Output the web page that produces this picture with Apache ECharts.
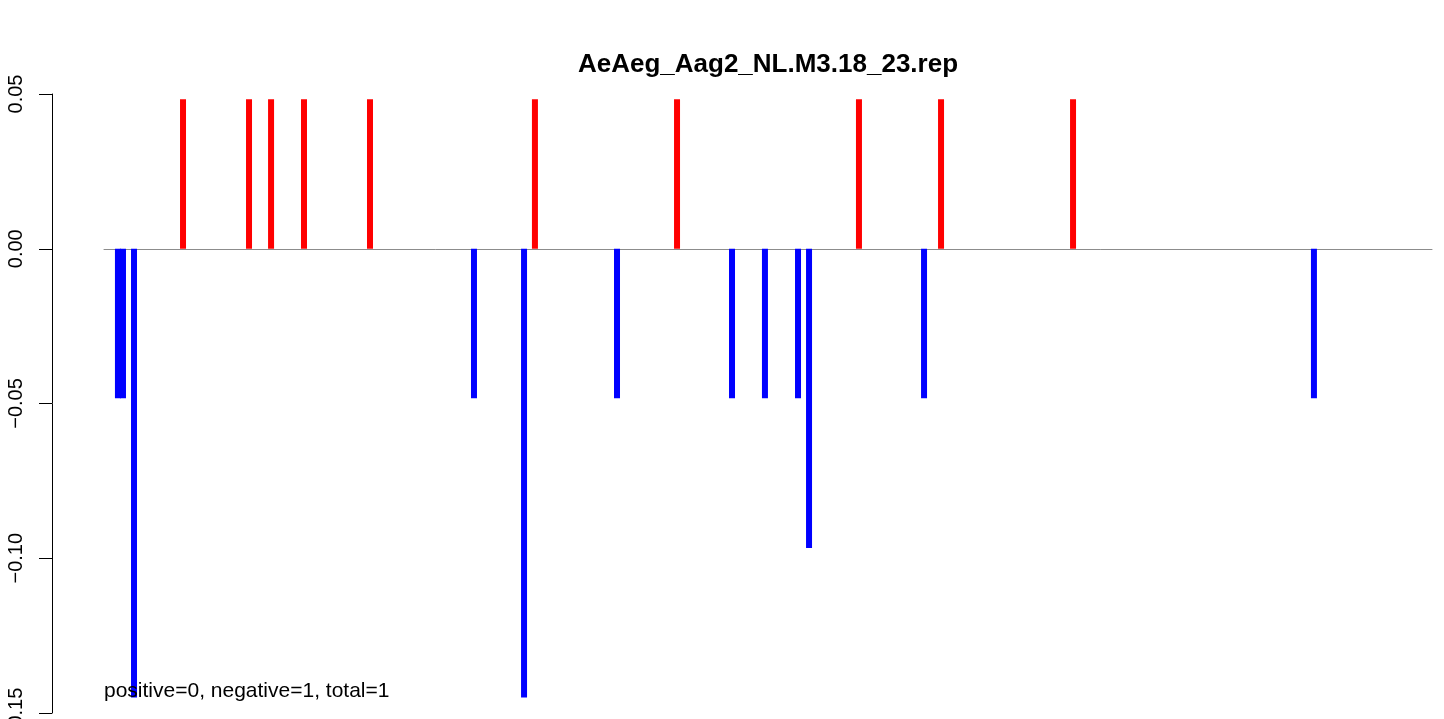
<!DOCTYPE html>
<html>
<head>
<meta charset="utf-8">
<script src="https://cdn.jsdelivr.net/npm/echarts@6/dist/echarts.min.js"></script>
<style>
  html, body { margin: 0; padding: 0; background: #ffffff; }
  #chart { width: 1444px; height: 719px; }
</style>
</head>
<body>
<div id="chart"></div>
<script>
// Positions along the sequence (arbitrary units, 0..1000 span of the baseline)
const positions = [10.5, 14.3, 22.6, 59.5, 109.2, 125.8, 150.6, 200.3, 278.6, 316.3, 324.5,
                   386.3, 431.5, 472.9, 497.7, 522.6, 530.9, 568.5, 617.5, 630.3, 729.7, 911.1];
// Bar heights (positive = red, negative = blue)
const values = [-0.0483, -0.0483, -0.145, 0.0483, 0.0483, 0.0483, 0.0483, 0.0483, -0.0483, -0.145, 0.0483,
                -0.0483, 0.0483, -0.0483, -0.0483, -0.0483, -0.0967, 0.0483, -0.0483, 0.0483, 0.0483, -0.0483];
const yTicks = [-0.15, -0.10, -0.05, 0.00, 0.05];
const titleText = 'AeAeg_Aag2_NL.M3.18_23.rep';
const noteText = 'positive=0, negative=1, total=1';

const FONT = '"Liberation Sans", Arial, Helvetica, sans-serif';

const chart = echarts.init(document.getElementById('chart'), null, { renderer: 'canvas' });

const data = positions.map((x, i) => [x, values[i]]);

chart.setOption({
  animation: false,
  backgroundColor: '#ffffff',
  grid: { left: 104, right: 12, top: 94, bottom: 6, containLabel: false, outerBoundsMode: 'none' },
  xAxis: {
    type: 'value',
    min: 0,
    max: 1000,
    axisLine: { show: true, onZero: true, lineStyle: { color: '#8c8c8c', width: 1 } },
    axisTick: { show: false },
    axisLabel: { show: false },
    splitLine: { show: false }
  },
  yAxis: {
    type: 'value',
    min: yTicks[0],
    max: yTicks[yTicks.length - 1],
    interval: 0.05,
    position: 'left',
    offset: 52,
    axisLine: { show: true, onZero: false, lineStyle: { color: '#000000', width: 1 } },
    axisTick: { show: true, length: 13, inside: false, lineStyle: { color: '#000000', width: 1 } },
    axisLabel: {
      show: true,
      rotate: 90,
      margin: 26,
      fontSize: 20,
      fontFamily: FONT,
      color: '#000000',
      formatter: v => v.toFixed(2).replace('-', '\u2212')
    },
    splitLine: { show: false }
  },
  series: [{
    type: 'bar',
    data: data,
    barWidth: 6,
    itemStyle: {
      color: p => (p.value[1] > 0 ? '#ff0000' : '#0000ff')
    },
    z: 1
  }],
  graphic: [
    {
      type: 'text',
      z: 10,
      style: {
        text: titleText,
        x: 768,
        y: 78,
        align: 'center',
        verticalAlign: 'bottom',
        font: 'bold 26px ' + FONT,
        fill: '#000000'
      }
    },
    {
      type: 'text',
      z: 10,
      style: {
        text: noteText,
        x: 104,
        y: 702,
        align: 'left',
        verticalAlign: 'bottom',
        font: '21px ' + FONT,
        fill: '#000000'
      }
    }
  ]
});
</script>
</body>
</html>
